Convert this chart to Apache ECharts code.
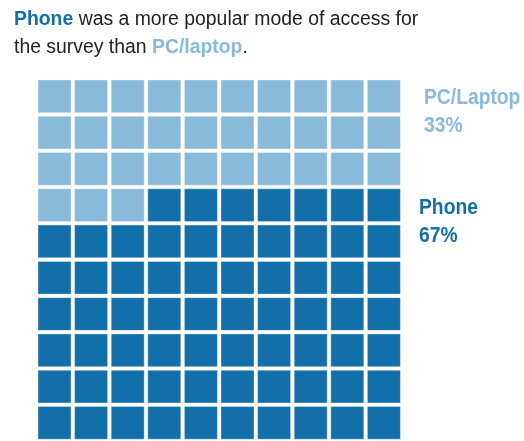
<!DOCTYPE html>
<html><head><meta charset="utf-8">
<script src="https://cdn.jsdelivr.net/npm/echarts@6/dist/echarts.min.js"></script>
<style>html,body{margin:0;padding:0;background:#fff}#c{width:524px;height:441px}</style>
</head><body><div id="c"></div>
<script>
const categories = ['PC/Laptop', 'Phone'];
const values = [33, 67];
const colors = ['#8ABADA', '#126FA9'];
const gridCols = 10, gridRows = 10;

const data = [];
let idx = 0;
for (let r = 0; r < gridRows; r++) {
  for (let c = 0; c < gridCols; c++) {
    const cat = idx < values[0] ? 0 : 1;
    data.push([c, r, cat]);
    idx++;
  }
}

const chart = echarts.init(document.getElementById('c'));
const font = 'Liberation Sans, Arial, sans-serif';
function label(x, y, text, color) {
  return {type: 'text', x: x, y: y, scaleY: 1.1,
    style: {x: 0, y: 0, text: text, verticalAlign: 'middle', font: 'bold 19.3px ' + font, fill: color}};
}
chart.setOption({
  animation: false,
  title: {
    left: 14, top: 6, padding: 0,
    text: '{p|Phone} was a more popular mode of access for\nthe survey than {l|PC/laptop}.',
    textStyle: {
      fontFamily: font, fontSize: 19.4, fontWeight: 'normal', color: '#222', lineHeight: 28,
      rich: {
        p: {fontFamily: font, fontSize: 19.4, fontWeight: 'bold', color: colors[1], lineHeight: 28},
        l: {fontFamily: font, fontSize: 19.4, fontWeight: 'bold', color: colors[0], lineHeight: 28}
      }
    }
  },
  grid: {left: 36.2, top: 78.2, width: 366, height: 366},
  xAxis: {type: 'value', min: -0.5, max: 9.5, show: false},
  yAxis: {type: 'value', min: -0.5, max: 9.5, inverse: true, show: false},
  series: [{
    type: 'custom',
    data: data,
    renderItem: function (params, api) {
      const p = api.coord([api.value(0), api.value(1)]);
      const s = api.size([1, 1]);
      const gap = 3.6;
      return {
        type: 'rect',
        shape: {x: p[0] - s[0] / 2 + gap / 2, y: p[1] - s[1] / 2 + gap / 2, width: s[0] - gap, height: s[1] - gap},
        style: {fill: colors[api.value(2)], stroke: 'rgba(255,255,255,0.35)', lineWidth: 1}
      };
    }
  }],
  graphic: [
    label(424, 98, categories[0], colors[0]),
    label(424, 126, values[0] + '%', colors[0]),
    label(419, 208, categories[1], colors[1]),
    label(419, 236, values[1] + '%', colors[1])
  ]
});
</script></body></html>
